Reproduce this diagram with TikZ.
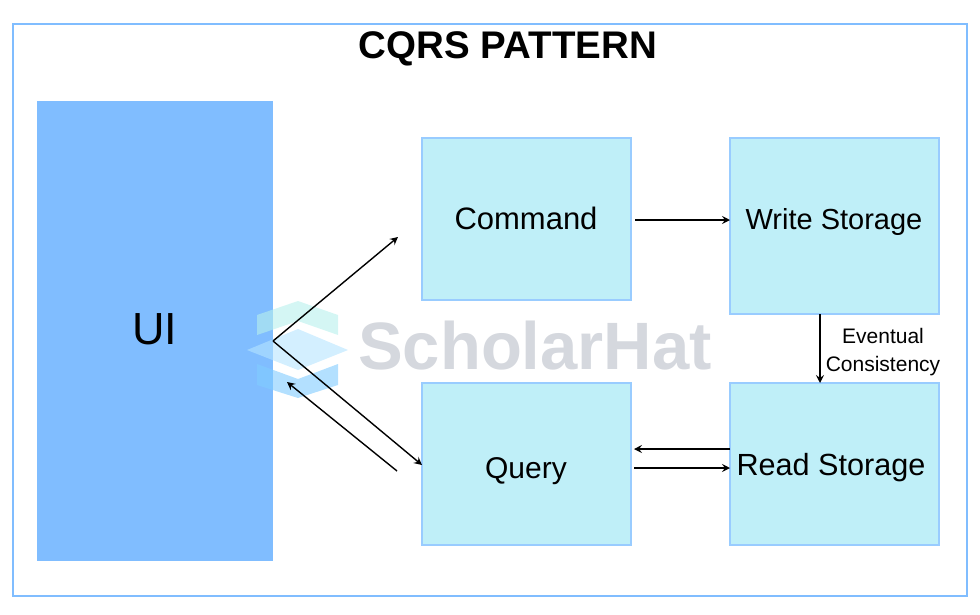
\documentclass[tikz,border=0pt]{standalone}
\usepackage{fontspec}
\setmainfont{Liberation Sans}
\usetikzlibrary{positioning,calc,arrows.meta}
\definecolor{uiblue}{HTML}{80BDFF}
\definecolor{boxblue}{HTML}{BFEFF8}
\definecolor{edgeblue}{HTML}{99CCFF}
\definecolor{markgray}{HTML}{D5D8DE}
\definecolor{marktop}{HTML}{B8F0EC}
\definecolor{markmid}{HTML}{B5E4FF}
\definecolor{markbot}{HTML}{80CCFF}

\begin{document}
\begin{tikzpicture}
   [x=1pt,y=-1pt,>={Stealth[length=8pt,width=8pt,inset=3pt]},
    block/.style={rectangle,draw=edgeblue,fill=boxblue,line width=1.2pt,
     minimum width=209pt,outer sep=0pt,inner sep=0pt},
    caption/.style={inner sep=0pt,font=\fontsize{30}{36}\selectfont},
    flow/.style={->,black,line width=1.4pt},
    markpart/.style={opacity=.6,draw=none}]

\useasboundingbox (0,0) rectangle (980,614);
\node [rectangle,draw=uiblue,line width=1.2pt,minimum width=954pt,minimum height=572pt,inner sep=0pt] (frame) at (490,310) {};
\node [inner sep=0pt,font=\fontsize{38.5}{44}\selectfont\bfseries] (title) at (508,49) {CQRS PATTERN};

\node [rectangle,fill=uiblue,minimum width=236pt,minimum height=460pt,outer sep=0pt,inner sep=0pt] (ui) at (155,331) {};
\node [block,minimum height=162pt] (cmd) at (526.5,219) {};
\node [block,minimum height=176pt,right=99pt of cmd.north east,anchor=north west] (wstore) {};
\node [block,minimum height=162pt,below=83pt of cmd] (qry) {};
\node [block,minimum height=162pt,right=99pt of qry] (rstore) {};

% watermark
\fill [marktop,markpart] (257,315) -- (298,301) -- (338,315) -- (338,335) -- (298,321) -- (257,335) -- cycle;
\fill [markmid,markpart] (247,350) -- (298,329) -- (348,350) -- (298,370) -- cycle;
\fill [markbot,markpart] (257,364) -- (298,379) -- (338,364) -- (338,385) -- (298,398) -- (257,385) -- cycle;
\node [inner sep=0pt,text=markgray,font=\fontsize{67}{70}\selectfont\bfseries] (mark) at (535,346) {ScholarHat};

\node [caption,font=\fontsize{45}{50}\selectfont] (uitxt) at (155,329) {UI};
\node [caption,font=\fontsize{31}{36}\selectfont] (cmdtxt) at (526,218) {Command};
\node [caption,font=\fontsize{29}{36}\selectfont] (wtxt) at (834,222) {Write Storage};
\node [caption] (qtxt) at (526,471) {Query};
\node [caption,font=\fontsize{30.6}{36}\selectfont] (rtxt) at (831,468) {Read Storage};
\node [align=center,inner sep=0pt,font=\fontsize{21}{28}\selectfont] (evtxt) at (883,352) {Eventual\\Consistency};

\coordinate (fork) at (273,341);
\coordinate (cmdend) at (398,237);
\coordinate (backstart) at (397,471);
\coordinate (backend) at (287,382);

\draw [flow] (fork) -- (cmdend);
\draw [flow] (fork) -- (qry.west |- 0,465);
\draw [flow] (backstart) -- (backend);
\draw [flow] ($(cmd.east |- 0,220)+(4,0)$) -- (wstore.west |- 0,220);
\draw [flow] (wstore.south -| 820,0) -- (rstore.north -| 820,0);
\draw [flow] (rstore.west |- 0,449) -- ($(qry.east |- 0,449)+(3,0)$);
\draw [flow] ($(qry.east |- 0,468)+(3,0)$) -- (rstore.west |- 0,468);
\end{tikzpicture}
\end{document}
